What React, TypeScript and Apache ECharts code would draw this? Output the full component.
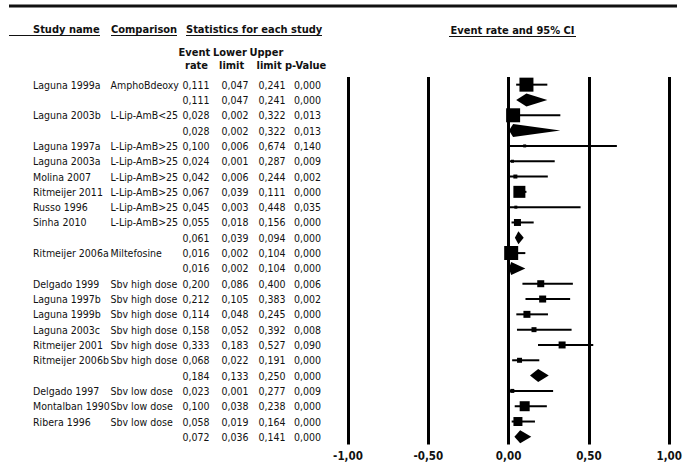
import React, { useEffect, useRef } from 'react';
import * as echarts from 'echarts';

const studyNames = [
  'Laguna 1999a', '', 'Laguna 2003b', '', 'Laguna 1997a', 'Laguna 2003a', 'Molina 2007',
  'Ritmeijer 2011', 'Russo 1996', 'Sinha 2010', '', 'Ritmeijer 2006a', '', 'Delgado 1999',
  'Laguna 1997b', 'Laguna 1999b', 'Laguna 2003c', 'Ritmeijer 2001', 'Ritmeijer 2006b', '',
  'Delgado 1997', 'Montalban 1990', 'Ribera 1996', '',
];
const comparisons = [
  'AmphoBdeoxy', '', 'L-Lip-AmB<25', '', 'L-Lip-AmB>25', 'L-Lip-AmB>25', 'L-Lip-AmB>25',
  'L-Lip-AmB>25', 'L-Lip-AmB>25', 'L-Lip-AmB>25', '', 'Miltefosine', '', 'Sbv high dose',
  'Sbv high dose', 'Sbv high dose', 'Sbv high dose', 'Sbv high dose', 'Sbv high dose', '',
  'Sbv low dose', 'Sbv low dose', 'Sbv low dose', '',
];
const eventRate = [
  0.111, 0.111, 0.028, 0.028, 0.1, 0.024, 0.042, 0.067, 0.045, 0.055, 0.061, 0.016, 0.016,
  0.2, 0.212, 0.114, 0.158, 0.333, 0.068, 0.184, 0.023, 0.1, 0.058, 0.072,
];
const lowerLimit = [
  0.047, 0.047, 0.002, 0.002, 0.006, 0.001, 0.006, 0.039, 0.003, 0.018, 0.039, 0.002, 0.002,
  0.086, 0.105, 0.048, 0.052, 0.183, 0.022, 0.133, 0.001, 0.038, 0.019, 0.036,
];
const upperLimit = [
  0.241, 0.241, 0.322, 0.322, 0.674, 0.287, 0.244, 0.111, 0.448, 0.156, 0.094, 0.104, 0.104,
  0.4, 0.383, 0.245, 0.392, 0.527, 0.191, 0.25, 0.277, 0.238, 0.164, 0.141,
];
const pValues = [
  0.0, 0.0, 0.013, 0.013, 0.14, 0.009, 0.002, 0.0, 0.035, 0.0, 0.0, 0.0, 0.0,
  0.006, 0.002, 0.0, 0.008, 0.09, 0.0, 0.0, 0.009, 0.0, 0.0, 0.0,
];
const isSummary = [
  false, true, false, true, false, false, false, false, false, false, true, false, true,
  false, false, false, false, false, false, true, false, false, false, true,
];
// relative study weight (marker side)
const relWeight = [
  14, 0, 14, 0, 3, 3, 4, 12, 3, 7, 0, 14, 0, 7, 7, 7, 5, 7, 5, 0, 4, 10, 9, 0,
];
const xMin = -1;
const xMax = 1;
const xInterval = 0.5;

const FONT = '"DejaVu Sans Condensed", "DejaVu Sans", sans-serif';
const fmt = (v: number) => v.toFixed(3).replace('.', ',');

export default function App() {
  const ref = useRef<HTMLDivElement>(null);
  useEffect(() => {
    const chart = echarts.init(ref.current!, null, { renderer: 'svg' });
    const rows = eventRate.map((_, i) => i);

    const colX = { study: 33, comp: 110.5, rate: 182.5, lower: 221.5, upper: 258.5, p: 294 };
    const txt = (text: string, x: number, y: number, bold = false, size?: number, align = 'left') => ({
      type: 'text',
      style: {
        text, x, y, fill: '#111', fontFamily: FONT,
        fontSize: size ?? (bold ? 11 : 10.5), fontWeight: bold ? 'bold' : 'normal',
        align, verticalAlign: 'middle',
      },
    });
    const uline = (x1: number, x2: number, y: number) => ({
      type: 'line', shape: { x1, y1: y, x2, y2: y }, style: { stroke: '#111', lineWidth: 1.2 },
    });

    const option: any = {
      animation: false,
      grid: { left: 348, right: 8, top: 77, bottom: 21.5, containLabel: false },
      xAxis: {
        type: 'value', min: xMin, max: xMax, interval: xInterval,
        axisLine: { show: false }, axisTick: { show: false },
        splitLine: { show: true, lineStyle: { color: '#000', width: 3 } },
        axisLabel: {
          formatter: (v: number) => v.toFixed(2).replace('.', ','),
          fontFamily: FONT, fontWeight: 'bold', fontSize: 11.5, color: '#111', margin: 5,
          showMaxLabel: true, showMinLabel: true,
        },
      },
      yAxis: { type: 'category', inverse: true, show: false, data: rows.map(String) },
      graphic: [
        { type: 'line', shape: { x1: 9, y1: 6, x2: 677, y2: 6 }, style: { stroke: '#111', lineWidth: 3 } },
        txt('Study name', 33, 29, true),
        uline(9, 100, 35.5),
        txt('Comparison', 111, 29, true),
        uline(111, 177, 35.5),
        txt('Statistics for each study', 186, 29, true),
        uline(186, 322, 35.5),
        txt('Event rate and 95% CI', 512.5, 30, true, 11, 'center'),
        uline(449, 576, 36.5),
        txt('Event', 178.5, 52, true),
        txt('Lower', 213, 52, true),
        txt('Upper', 249.5, 52, true),
        txt('rate', 185, 65.5, true),
        txt('limit', 219, 65.5, true),
        txt('limit', 256.5, 65.5, true),
        txt('p-Value', 285, 65.5, true),
      ],
      series: [
        {
          type: 'custom',
          name: 'table',
          silent: true,
          clip: false,
          data: rows.map((i) => [i]),
          encode: { y: 0 },
          renderItem: (params: any, api: any) => {
            const i = params.dataIndex;
            const y = api.coord([0, i])[1];
            return {
              type: 'group',
              children: [
                txt(studyNames[i], colX.study, y),
                txt(comparisons[i], colX.comp, y),
                txt(fmt(eventRate[i]), colX.rate, y),
                txt(fmt(lowerLimit[i]), colX.lower, y),
                txt(fmt(upperLimit[i]), colX.upper, y),
                txt(fmt(pValues[i]), colX.p, y),
              ],
            };
          },
        },
        {
          type: 'custom',
          name: 'forest',
          silent: true,
          clip: false,
          data: rows.map((i) => [i, eventRate[i], lowerLimit[i], upperLimit[i], relWeight[i], isSummary[i] ? 1 : 0]),
          encode: { y: 0, x: [1, 2, 3] },
          renderItem: (params: any, api: any) => {
            const idx = api.value(0);
            const est = api.coord([api.value(1), idx]);
            const lo = api.coord([api.value(2), idx]);
            const hi = api.coord([api.value(3), idx]);
            const w = api.value(4);
            const y = est[1];
            if (api.value(5) === 1) {
              const h = 6.5;
              return {
                type: 'polygon',
                shape: { points: [[lo[0], y], [est[0], y - h], [hi[0], y], [est[0], y + h]] },
                style: { fill: '#000' },
              };
            }
            return {
              type: 'group',
              children: [
                { type: 'line', shape: { x1: lo[0], y1: y, x2: hi[0], y2: y }, style: { stroke: '#000', lineWidth: 2 } },
                { type: 'rect', shape: { x: est[0] - w / 2, y: y - w / 2, width: w, height: w }, style: { fill: '#000' } },
              ],
            };
          },
        },
      ],
    };
    chart.setOption(option);
    return () => chart.dispose();
  }, []);
  return <div ref={ref} style={{ position: 'absolute', left: 0, top: 0, width: 685, height: 466, background: '#fff' }} />;
}
